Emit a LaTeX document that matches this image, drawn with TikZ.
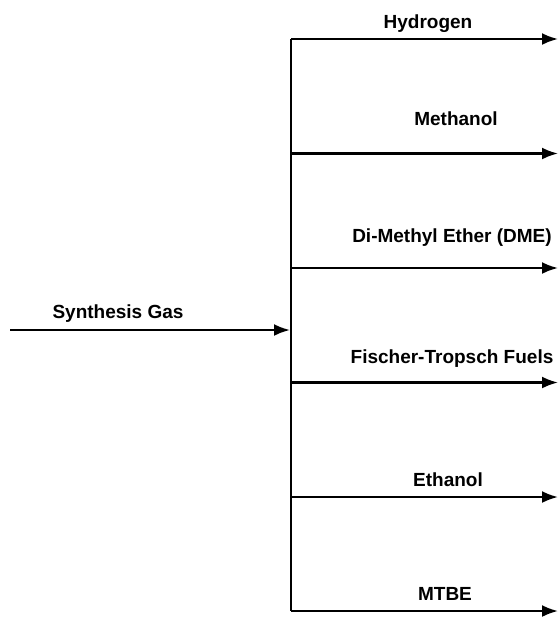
\documentclass[tikz,border=0pt]{standalone}
\usepackage{fontspec}
\setmainfont{Liberation Sans}
\usetikzlibrary{arrows.meta}
\definecolor{ink}{HTML}{000000}
\newcommand{\figfontsize}{\fontsize{19}{22}\selectfont\bfseries}
\tikzset{
  every picture/.style = {font=\figfontsize, line join=round},
  feed/.style          = {line width=2.3pt, -{Latex[length=16pt, width=12pt]}},
  bus/.style           = {line width=2.3pt},
  lbl/.style           = {anchor=base, inner sep=0pt, text=ink},
}

\begin{document}
\begin{tikzpicture}[x=1pt, y=-1pt]
  \useasboundingbox (0,0) rectangle (558,619);
  \def\Bx{291}\def\Ex{558}     % the header line, and where every product leaves

  \coordinate (J1) at (\Bx,39);
  \coordinate (J2) at (\Bx,153.5);
  \coordinate (J3) at (\Bx,268);
  \coordinate (J4) at (\Bx,382.5);
  \coordinate (J5) at (\Bx,497);
  \coordinate (J6) at (\Bx,611);
  \coordinate (E1) at (\Ex,39);
  \coordinate (E2) at (\Ex,153.5);
  \coordinate (E3) at (\Ex,268);
  \coordinate (E4) at (\Ex,382.5);
  \coordinate (E5) at (\Ex,497);
  \coordinate (E6) at (\Ex,611);

  % ---------- left: the feed ---------------------------------------------------
  \coordinate (src) at (10,330);
  \coordinate (hit) at (\Bx-1,330);
  \draw[feed, ink] (src) -- (hit);
  \node[lbl] (syngas) at (118,318) {Synthesis Gas};

  % ---------- right: the header and its six products --------------------------
  \draw[bus, ink] (J1) -- (J6);
  \draw[feed, ink] (J1) -- (E1);
  \draw[feed, ink] (J2) -- (E2);
  \draw[feed, ink] (J3) -- (E3);
  \draw[feed, ink] (J4) -- (E4);
  \draw[feed, ink] (J5) -- (E5);
  \draw[feed, ink] (J6) -- (E6);

  \node[lbl] (hydrogen) at (428,28)  {Hydrogen};
  \node[lbl] (methanol) at (456,125) {Methanol};
  \node[lbl] (dme)      at (452,242) {Di-Methyl Ether (DME)};
  \node[lbl] (ftfuels)  at (452,363) {Fischer-Tropsch Fuels};
  \node[lbl] (ethanol)  at (448,486) {Ethanol};
  \node[lbl] (mtbe)     at (445,600) {MTBE};
\end{tikzpicture}
\end{document}
